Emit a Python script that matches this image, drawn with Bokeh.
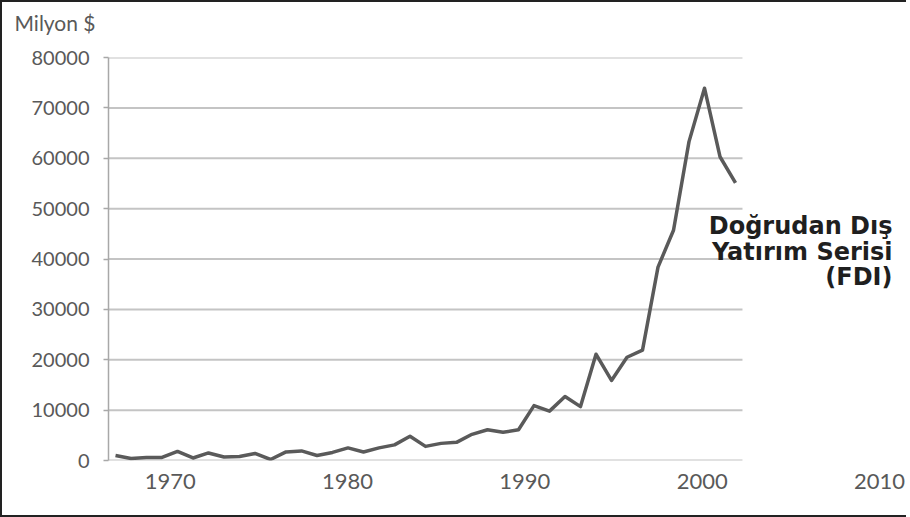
from bokeh.plotting import figure
from bokeh.models import Range1d, LinearAxis, FixedTicker, Label, ColumnDataSource, Title
from bokeh.embed import file_html
from bokeh.resources import INLINE

# ---- data ----
years = list(range(1970, 2011))
fdi = [1000, 400, 600, 600, 1800, 500, 1500, 700, 800, 1400,
       200, 1700, 1900, 1000, 1600, 2500, 1700, 2500, 3100, 4800,
       2800, 3400, 3600, 5200, 6100, 5600, 6100, 10900, 9800, 12700,
       10700, 21100, 15900, 20500, 21900, 38400, 45700, 63300, 73900, 60300,
       55100]
y_ticks = [0, 10000, 20000, 30000, 40000, 50000, 60000, 70000, 80000]
x_tick_labels = [1970, 1980, 1990, 2000, 2010]
y_title = "Milyon $"
series_note = ["Doğrudan Dış", "Yatırım Serisi", "(FDI)"]

# ---- layout constants ----
X0, X1 = 1969.548, 2020.774      # data range of the series
GRID_END = 2010.45
LAB0, LAB1 = 1966.514, 2011.30   # range used for the year labels

p = figure(width=906, height=517, output_backend="svg", toolbar_location=None,
           x_range=Range1d(X0, X1), y_range=Range1d(0, 80000), title=None,
           x_axis_location=None, min_border_left=106, min_border_right=6,
           min_border_top=54, min_border_bottom=59)
p.outline_line_color = None
p.grid.visible = False
p.background_fill_color = "white"
p.border_fill_color = "white"

# spacer between the frame and the unit label, then the unit label
p.add_layout(Title(text=" ", text_font_size="6px"), "above")
p.add_layout(Title(text=y_title, align="left", offset=-94, text_font="Lato",
                   text_font_style="normal", text_font_size="21px",
                   text_color="#595959"), "above")

# horizontal gridlines (only across the data area)
p.segment(x0=[X0] * len(y_ticks), x1=[GRID_END] * len(y_ticks), y0=y_ticks, y1=y_ticks,
          line_color="#c4c4c4", line_width=2)

# y axis
ya = p.yaxis[0]
ya.ticker = FixedTicker(ticks=y_ticks)
ya.axis_line_color = "#a8a8a8"
ya.axis_line_width = 1.5
ya.major_tick_line_color = "#a8a8a8"
ya.major_tick_line_width = 1.5
ya.major_tick_out = 5
ya.major_tick_in = 0
ya.minor_tick_line_color = None
ya.major_label_standoff = 14
ya.major_label_text_font = "Lato"
ya.major_label_text_font_size = "20px"
ya.major_label_text_color = "#595959"

# x labels axis
p.extra_x_ranges = {"lab": Range1d(LAB0, LAB1)}
xa = LinearAxis(x_range_name="lab", ticker=FixedTicker(ticks=x_tick_labels))
xa.axis_line_color = None
xa.major_tick_line_color = None
xa.minor_tick_line_color = None
xa.major_label_standoff = 7
xa.major_label_text_font = "Lato"
xa.major_label_text_font_size = "22px"
xa.major_label_text_color = "#595959"
p.add_layout(xa, "below")

# series line
src = ColumnDataSource(dict(x=years, y=fdi))
p.line("x", "y", source=src, line_color="#5a5a5a", line_width=3.5, line_join="round")

# series annotation
p.add_layout(Label(x=2020.13, y=49267, text="\n".join(series_note),
                   text_font="DejaVu Sans", text_font_size="24px", text_font_style="bold",
                   text_color="#1f1f1f", text_align="right", text_baseline="top",
                   text_line_height=0.914))

p.styles = {"border-left": "2px solid #222", "border-top": "2px solid #222",
            "border-bottom": "2px solid #222"}

open("out.html", "w").write(file_html(p, INLINE))
